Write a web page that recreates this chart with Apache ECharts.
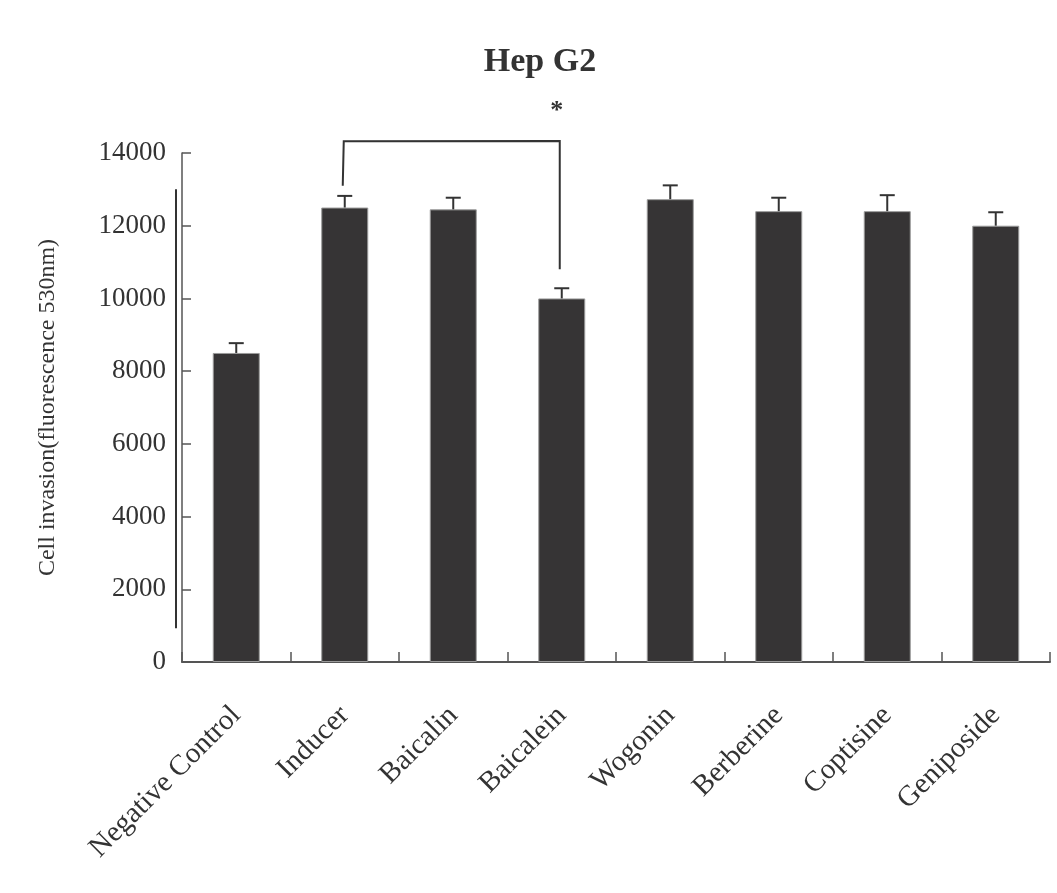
<!DOCTYPE html>
<html>
<head>
<meta charset="utf-8">
<script src="https://cdn.jsdelivr.net/npm/echarts@6/dist/echarts.min.js"></script>
<style>
html,body{margin:0;padding:0;background:#fff;}
#chart{width:1057px;height:893px;}
</style>
</head>
<body>
<div id="chart"></div>
<script>
var categories = ['Negative Control','Inducer','Baicalin','Baicalein','Wogonin','Berberine','Coptisine','Geniposide'];
var values = [8500, 12500, 12450, 10000, 12730, 12400, 12400, 12000];
var errors = [270, 320, 320, 280, 380, 370, 440, 370];
var yTicks = [0, 2000, 4000, 6000, 8000, 10000, 12000, 14000];
var titleText = 'Hep G2';
var yAxisName = 'Cell invasion(fluorescence 530nm)';
var sigPair = ['Inducer', 'Baicalein'];
var sigMark = '*';

var FONT = '"Liberation Serif","Times New Roman",serif';
var TXT = '#333';
var chart = echarts.init(document.getElementById('chart'));

var errData = values.map(function (v, i) { return [i, v, v + errors[i]]; });

chart.setOption({
  animation: false,
  backgroundColor: '#fff',
  title: {
    text: titleText, left: 535, top: 40, textAlign: 'center',
    textStyle: { fontFamily: FONT, fontSize: 34, fontWeight: 'bold', color: TXT }
  },
  grid: { left: 182, right: 7, top: 153, bottom: 231, containLabel: false },
  xAxis: {
    type: 'category', data: categories, boundaryGap: true,
    axisLine: { show: true, lineStyle: { color: '#555', width: 2 } },
    axisTick: { show: true, inside: true, alignWithLabel: false, interval: 0, length: 10, lineStyle: { color: '#555', width: 1.5 } },
    axisLabel: { rotate: 45, margin: 49, interval: 0, fontFamily: FONT, fontSize: 29, color: TXT }
  },
  yAxis: {
    type: 'value', min: yTicks[0], max: yTicks[yTicks.length - 1], interval: 2000,
    name: yAxisName, nameLocation: 'middle', nameGap: 122, nameRotate: 90,
    nameTextStyle: { fontFamily: FONT, fontSize: 24, color: TXT },
    axisLine: { show: true, lineStyle: { color: '#555', width: 1.5 } },
    axisTick: { show: true, inside: true, length: 9, lineStyle: { color: '#555', width: 1.5 } },
    axisLabel: { margin: 16, fontFamily: FONT, fontSize: 27, color: TXT, formatter: function (v) { return String(v); } },
    splitLine: { show: false }
  },
  series: [
    {
      type: 'bar', data: values, barWidth: 47,
      itemStyle: { color: '#363435', borderColor: '#9a9a9a', borderWidth: 1 },
      z: 2
    },
    {
      type: 'custom', data: errData, z: 3,
      renderItem: function (params, api) {
        var x = api.value(0);
        var p0 = api.coord([x, api.value(1)]);
        var p1 = api.coord([x, api.value(2)]);
        var hw = 7.5;
        var st = { stroke: '#333', lineWidth: 2 };
        return { type: 'group', children: [
          { type: 'line', shape: { x1: p0[0], y1: p0[1], x2: p1[0], y2: p1[1] }, style: st },
          { type: 'line', shape: { x1: p1[0] - hw, y1: p1[1], x2: p1[0] + hw, y2: p1[1] }, style: st }
        ]};
      }
    }
  ]
});

// significance bracket and side line, positioned through the axes
var a = chart.convertToPixel({ gridIndex: 0 }, [sigPair[0], 13100]);
var aTop = chart.convertToPixel({ gridIndex: 0 }, [sigPair[0], 14320]);
var b = chart.convertToPixel({ gridIndex: 0 }, [sigPair[1], 10800]);
var bTop = chart.convertToPixel({ gridIndex: 0 }, [sigPair[1], 14330]);
var star = chart.convertToPixel({ gridIndex: 0 }, [sigPair[1], 15150]);
var c0 = chart.convertToPixel({ xAxisIndex: 0 }, 0);
var c1 = chart.convertToPixel({ xAxisIndex: 0 }, 1);
var axisX = c0 - (c1 - c0) / 2;
var sy1 = chart.convertToPixel({ yAxisIndex: 0 }, 13000);
var sy2 = chart.convertToPixel({ yAxisIndex: 0 }, 930);
var bst = { stroke: '#333', lineWidth: 2, fill: null };
chart.setOption({
  graphic: [
    { type: 'polyline', shape: { points: [[a[0] - 2, a[1]], [aTop[0] - 1, aTop[1]], [bTop[0] - 2, bTop[1]], [b[0] - 2, b[1]]] }, style: bst, z: 10 },
    { type: 'text', x: star[0] - 5, y: star[1], style: { text: sigMark, font: 'bold 26px ' + FONT, fill: TXT, align: 'center', verticalAlign: 'middle' }, z: 10 },
    { type: 'line', shape: { x1: axisX - 6, y1: sy1, x2: axisX - 6, y2: sy2 }, style: { stroke: '#333', lineWidth: 2 }, z: 10 }
  ]
});
</script>
</body>
</html>
